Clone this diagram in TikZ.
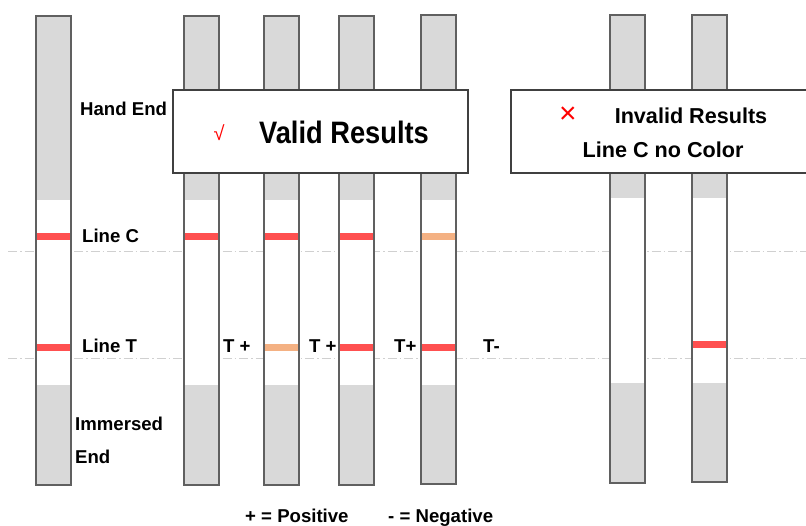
\documentclass[tikz,border=0pt]{standalone}
\usepackage{fontspec}
\setmainfont{Liberation Sans}
\usetikzlibrary{calc}
\definecolor{stripgrey}{HTML}{D9D9D9}
\definecolor{edgegrey}{HTML}{606060}
\definecolor{markred}{HTML}{FF5050}
\definecolor{markpeach}{HTML}{F4B183}
\definecolor{guidegrey}{HTML}{D0D0D0}
\tikzset{
  stripedge/.style={line width=1.5pt, draw=edgegrey},
  resbox/.style={line width=1.3pt, draw=black!75, fill=white},
  guide/.style={line width=0.8pt, draw=guidegrey, dash pattern=on 9pt off 3pt on 1.5pt off 3pt},
  lbl/.style={anchor=base west, inner sep=0pt, font=\fontsize{18.6}{20}\selectfont\bfseries},
}
\def\teststrip(#1,#2,#3,#4,#5){%
  \fill[stripgrey] (#1,#2) rectangle (#1+35,#3);
  \fill[white] (#1+1,#4) rectangle (#1+34,#5);
  \draw[stripedge] (#1,#2) rectangle (#1+35,#3);}
\def\testmark[#1](#2,#3){\fill[#1] (#2+1,#3-3.5) rectangle (#2+34,#3+3.5);}

\begin{document}
\begin{tikzpicture}[x=1pt, y=-1pt]
		%%%%% START %%%%%
		\useasboundingbox (0,0) rectangle (806,525);
		
		\draw[guide] (8,251) -- (806,251);
		\draw[guide] (8,358) -- (806,358);
		
		% strips
		\teststrip(36,16,485,200,385)
		\teststrip(184,16,485,200,385)
		\teststrip(264,16,485,200,385)
		\teststrip(339,16,485,200,385)
		\teststrip(421,15,484,200,385)
		\teststrip(610,15,483,198,383)
		\teststrip(692,15,482,198,383)
		
		% line C
		\testmark[markred](36,236)
		\testmark[markred](184,236)
		\testmark[markred](264,236)
		\testmark[markred](339,236)
		\testmark[markpeach](421,236)
		
		% line T
		\testmark[markred](36,347)
		\testmark[markpeach](264,347)
		\testmark[markred](339,347)
		\testmark[markred](421,347)
		\testmark[markred](692,344)
		
		% result boxes
		\draw[resbox] (173,90) rectangle (468,173);
		\node[inner sep=0pt, text=red, font=\fontsize{20}{22}\selectfont] (tick) at (219,133) {√};
		\node[anchor=base, inner sep=0pt, font=\fontsize{31}{34}\selectfont\bfseries] (valid) at (344,143) {\scalebox{0.88}[1]{Valid Results}};
		
		\draw[resbox] (511,90) rectangle (812,173);
		\node[inner sep=0pt, text=red, font=\fontsize{30}{32}\selectfont] (cross) at (568,115) {×};
		\node[anchor=base, inner sep=0pt, font=\fontsize{21.6}{23}\selectfont\bfseries] (invalid) at (691,123) {Invalid Results};
		\node[anchor=base, inner sep=0pt, font=\fontsize{21.6}{23}\selectfont\bfseries] (nocolor) at (663,157) {Line C no Color};
		
		% labels
		\node[lbl] (hand) at (80,115) {Hand End};
		\node[lbl] (linec) at (82,242) {Line C};
		\node[lbl] (linet) at (82,352) {Line T};
		\node[lbl] (immersed) at (75,430) {Immersed};
		\node[lbl] (immend) at (75,463) {End};
		
		\node[lbl] (tpa) at (223,352) {T +};
		\node[lbl] (tpb) at (309,352) {T +};
		\node[lbl] (tpc) at (394,352) {T+};
		\node[lbl] (tneg) at (483,352) {T-};
		
		\node[lbl] (pos) at (245,522) {+ = Positive};
		\node[lbl] (neg) at (388,522) {- = Negative};
		%%%%% END %%%%%
	\end{tikzpicture}
\end{document}
